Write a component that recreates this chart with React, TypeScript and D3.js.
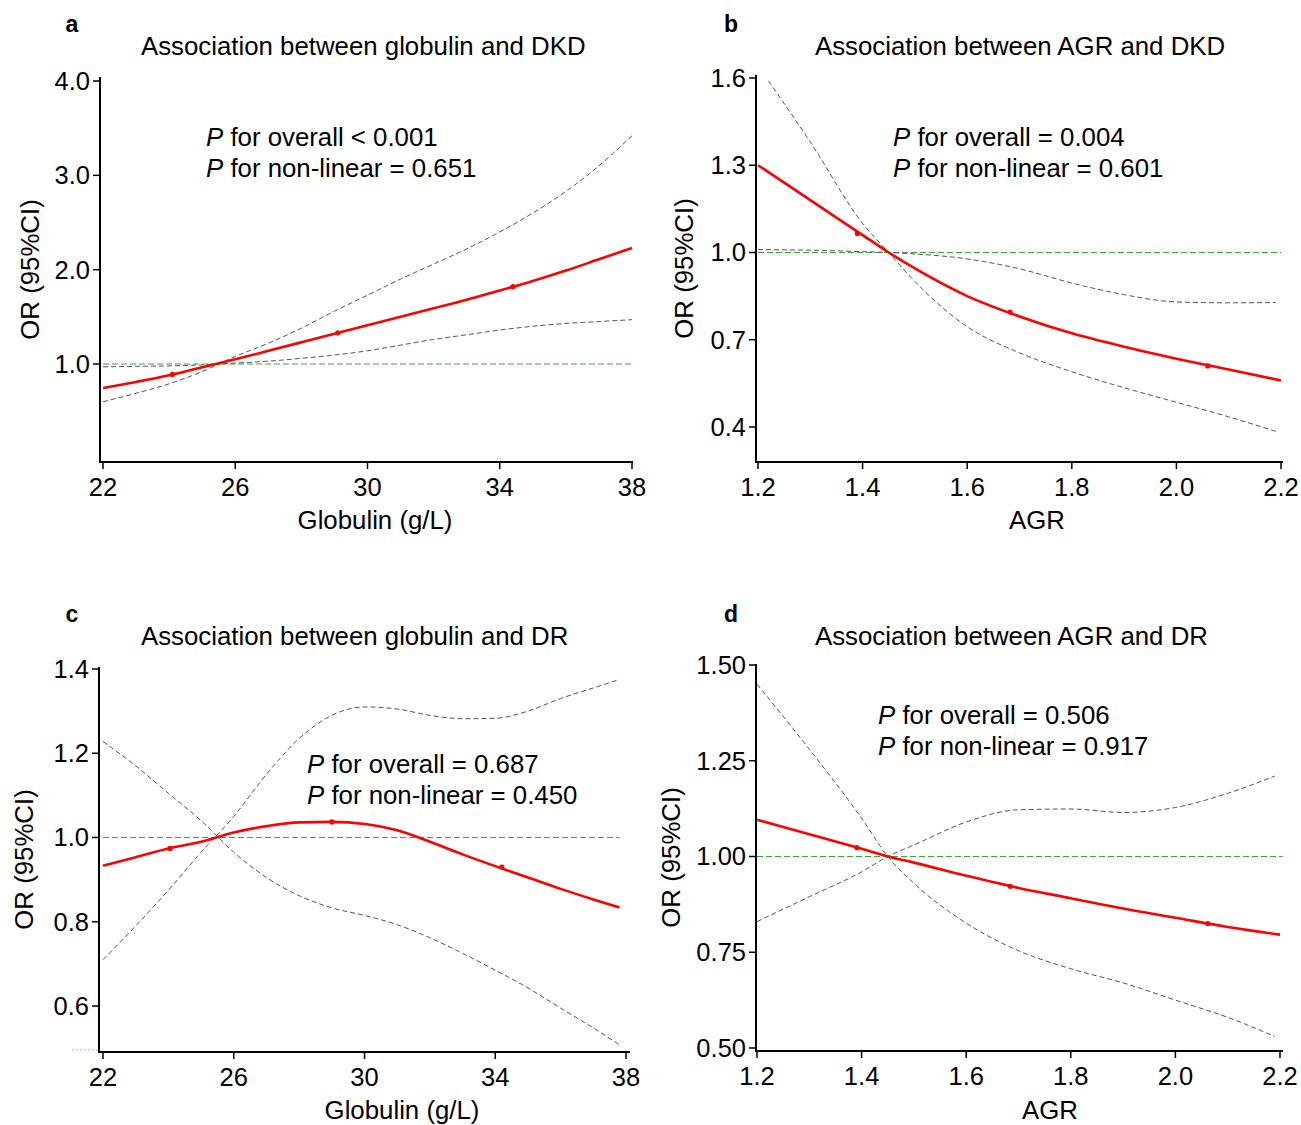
import React from 'react';
import * as d3 from 'd3';

// ---- data ----
// a: globulin vs DKD
const globA = [22, 23, 24, 25, 26, 27, 28, 29, 30, 31, 32, 33, 34, 35, 36, 37, 38];
const orA = [0.745, 0.81, 0.88, 0.965, 1.05, 1.14, 1.23, 1.32, 1.41, 1.5, 1.59, 1.68, 1.78, 1.88, 1.99, 2.11, 2.23];
const ciA1 = [0.6, 0.69, 0.79, 0.92, 1.08, 1.22, 1.38, 1.56, 1.73, 1.9, 2.06, 2.22, 2.4, 2.6, 2.83, 3.1, 3.42];
const ciA2 = [0.97, 0.975, 0.98, 0.99, 1.01, 1.03, 1.06, 1.095, 1.14, 1.2, 1.26, 1.31, 1.36, 1.4, 1.43, 1.45, 1.47];
const knotXA = [24.1, 29.1, 34.4];
const knotYA = [0.89, 1.33, 1.82];

// b: AGR vs DKD
const agrB = [1.2, 1.3, 1.4, 1.45, 1.5, 1.6, 1.7, 1.8, 1.9, 2.0, 2.1, 2.2];
const orB = [1.3, 1.18, 1.06, 1.0, 0.945, 0.85, 0.78, 0.722, 0.676, 0.635, 0.598, 0.56];
const agrBci = [1.22, 1.3, 1.4, 1.45, 1.5, 1.6, 1.7, 1.8, 1.9, 2.0, 2.1, 2.19];
const ciB1 = [1.59, 1.38, 1.1, 1.0, 0.9, 0.745, 0.655, 0.59, 0.535, 0.485, 0.435, 0.385];
const ciB2x = [1.2, 1.3, 1.4, 1.45, 1.5, 1.6, 1.7, 1.8, 1.9, 2.0, 2.1, 2.19];
const ciB2 = [1.01, 1.008, 1.003, 1.0, 0.995, 0.978, 0.944, 0.895, 0.855, 0.83, 0.827, 0.828];
const knotXB = [1.39, 1.682, 2.06];
const knotYB = [1.065, 0.795, 0.61];

// c: globulin vs DR
const globC = [22, 23, 24, 25, 26, 27, 28, 29, 30, 31, 32, 33, 34, 35, 36, 37, 37.8];
const orC = [0.933, 0.953, 0.974, 0.99, 1.012, 1.027, 1.036, 1.037, 1.032, 1.017, 0.99, 0.96, 0.932, 0.905, 0.878, 0.853, 0.834];
const ciC1 = [0.71, 0.79, 0.875, 0.965, 1.05, 1.15, 1.235, 1.29, 1.31, 1.305, 1.29, 1.282, 1.283, 1.3, 1.33, 1.355, 1.375];
const ciC2 = [1.228, 1.17, 1.105, 1.04, 0.965, 0.905, 0.862, 0.833, 0.815, 0.793, 0.762, 0.725, 0.685, 0.643, 0.595, 0.548, 0.508];
const knotXC = [24.05, 29.0, 34.2];
const knotYC = [0.974, 1.037, 0.93];

// d: AGR vs DR
const agrD = [1.2, 1.3, 1.4, 1.45, 1.5, 1.6, 1.7, 1.8, 1.9, 2.0, 2.1, 2.2];
const orD = [1.096, 1.058, 1.02, 1.0, 0.984, 0.95, 0.918, 0.891, 0.864, 0.84, 0.816, 0.796];
const agrDci = [1.2, 1.3, 1.4, 1.45, 1.5, 1.6, 1.7, 1.8, 1.9, 2.0, 2.1, 2.19];
const ciD1 = [1.45, 1.28, 1.1, 1.0, 0.93, 0.826, 0.754, 0.707, 0.67, 0.625, 0.58, 0.53];
const ciD2 = [0.83, 0.895, 0.96, 1.0, 1.03, 1.09, 1.122, 1.124, 1.115, 1.128, 1.165, 1.21];
const knotXD = [1.391, 1.684, 2.062];
const knotYD = [1.023, 0.922, 0.825];

const globTicks = [22, 26, 30, 34, 38];
const agrTicks = [1.2, 1.4, 1.6, 1.8, 2.0, 2.2];

const FONT = "'Liberation Sans', Arial, Helvetica, sans-serif";
const FS = 25.8;   // titles, labels, annotations
const TFS = 25.5;  // tick labels

const zip = (xs, ys) => xs.map((x, i) => [x, ys[i]]);

const panels = [
  {
    letter: 'a', title: 'Association between globulin and DKD', xLabel: 'Globulin (g/L)',
    pOverall: '< 0.001', pNonLin: '= 0.651',
    xDomain: [22, 38], xRange: [103, 632], yDomain: [1, 4], yRange: [364, 81],
    axisX: 100, axisY: 462, axisTop: 77, axisRight: 633,
    xTicks: globTicks, xFmt: d3.format('d'), yTicks: [1, 2, 3, 4], yFmt: d3.format('.1f'),
    ref: [22, 38],
    fit: zip(globA, orA), ci1: zip(globA, ciA1), ci2: zip(globA, ciA2), knots: zip(knotXA, knotYA),
    textX: 206, textY: 146, xLabX: 375, xLabY: 529, yLabX: 30,
  },
  {
    letter: 'b', title: 'Association between AGR and DKD', xLabel: 'AGR',
    pOverall: '= 0.004', pNonLin: '= 0.601',
    xDomain: [1.2, 2.2], xRange: [758, 1281], yDomain: [0.4, 1.6], yRange: [427, 78],
    axisX: 756, axisY: 462, axisTop: 75, axisRight: 1283,
    xTicks: agrTicks, xFmt: d3.format('.1f'), yTicks: [0.4, 0.7, 1.0, 1.3, 1.6], yFmt: d3.format('.1f'),
    ref: [1.2, 2.2],
    fit: zip(agrB, orB), ci1: zip(agrBci, ciB1), ci2: zip(ciB2x, ciB2), knots: zip(knotXB, knotYB),
    textX: 893, textY: 146, xLabX: 1037, xLabY: 529, yLabX: 684,
  },
  {
    letter: 'c', title: 'Association between globulin and DR', xLabel: 'Globulin (g/L)',
    pOverall: '= 0.687', pNonLin: '= 0.450',
    xDomain: [22, 38], xRange: [103, 626], yDomain: [0.6, 1.4], yRange: [1006, 669],
    axisX: 99, axisY: 1052, axisTop: 667, axisRight: 630,
    xTicks: globTicks, xFmt: d3.format('d'), yTicks: [0.6, 0.8, 1.0, 1.2, 1.4], yFmt: d3.format('.1f'),
    ref: [22, 37.8],
    fit: zip(globC, orC), ci1: zip(globC, ciC1), ci2: zip(globC, ciC2), knots: zip(knotXC, knotYC),
    textX: 307, textY: 773, xLabX: 402, xLabY: 1119, yLabX: 24,
  },
  {
    letter: 'd', title: 'Association between AGR and DR', xLabel: 'AGR',
    pOverall: '= 0.506', pNonLin: '= 0.917',
    xDomain: [1.2, 2.2], xRange: [757, 1280], yDomain: [0.5, 1.5], yRange: [1048, 665],
    axisX: 756, axisY: 1051, axisTop: 664, axisRight: 1283,
    xTicks: agrTicks, xFmt: d3.format('.1f'), yTicks: [0.5, 0.75, 1.0, 1.25, 1.5], yFmt: d3.format('.2f'),
    ref: [1.2, 2.205],
    fit: zip(agrD, orD), ci1: zip(agrDci, ciD1), ci2: zip(agrDci, ciD2), knots: zip(knotXD, knotYD),
    textX: 878, textY: 724, xLabX: 1050, xLabY: 1119, yLabX: 671,
  },
];

const Panel = ({ p }) => {
  const x = d3.scaleLinear().domain(p.xDomain).range(p.xRange);
  const y = d3.scaleLinear().domain(p.yDomain).range(p.yRange);
  const line = d3.line().x((d) => x(d[0])).y((d) => y(d[1])).curve(d3.curveMonotoneX);
  const letterX = p.axisX < 300 ? 72 : 731;
  const topY = p.axisY < 600 ? 0 : 590;
  const titleX = p.axisX < 300 ? 141 : 815;
  const yLabY = (p.axisTop + p.axisY) / 2;

  return (
    <g fontFamily={FONT} fill="#000">
      <text x={letterX} y={topY + 32} fontSize={23} fontWeight="bold" textAnchor="middle">{p.letter}</text>
      <text x={titleX} y={topY + 55} fontSize={FS}>{p.title}</text>

      {/* reference line OR = 1 */}
      <line x1={x(p.ref[0])} x2={x(p.ref[1])} y1={y(1)} y2={y(1)}
        stroke="#3aa83a" strokeWidth={1} strokeDasharray="6,3" />

      {/* confidence bands */}
      <path d={line(p.ci1)} fill="none" stroke="#555" strokeWidth={1} strokeDasharray="5,3" />
      <path d={line(p.ci2)} fill="none" stroke="#555" strokeWidth={1} strokeDasharray="5,3" />

      {/* fitted OR */}
      <path d={line(p.fit)} fill="none" stroke="#f00" strokeWidth={2.6} />
      {p.knots.map((k, i) => (
        <circle key={i} cx={x(k[0])} cy={y(k[1])} r={2.6} fill="#f00" />
      ))}

      {/* axes */}
      <line x1={p.axisX} x2={p.axisX} y1={p.axisTop} y2={p.axisY} stroke="#000" strokeWidth={2} />
      <line x1={p.axisX - 1} x2={p.axisRight} y1={p.axisY} y2={p.axisY} stroke="#000" strokeWidth={2.2} />
      {p.yTicks.map((t) => (
        <g key={'y' + t}>
          <line x1={p.axisX - 7} x2={p.axisX} y1={y(t)} y2={y(t)} stroke="#000" strokeWidth={1.5} />
          <text x={p.axisX - 10} y={y(t)} dy="0.35em" fontSize={TFS} textAnchor="end">{p.yFmt(t)}</text>
        </g>
      ))}
      {p.xTicks.map((t) => (
        <g key={'x' + t}>
          <line x1={x(t)} x2={x(t)} y1={p.axisY} y2={p.axisY + 7} stroke="#000" strokeWidth={1.5} />
          <text x={x(t)} y={p.axisY + 34} fontSize={TFS} textAnchor="middle">{p.xFmt(t)}</text>
        </g>
      ))}

      <text x={p.xLabX} y={p.xLabY} fontSize={FS} textAnchor="middle">{p.xLabel}</text>
      <text transform={`translate(${p.yLabX},${yLabY}) rotate(-90)`} dy="0.35em" fontSize={FS} textAnchor="middle">OR (95%CI)</text>

      <text x={p.textX} y={p.textY} fontSize={FS}>
        <tspan fontStyle="italic">P</tspan>{' for overall ' + p.pOverall}
      </text>
      <text x={p.textX} y={p.textY + 31} fontSize={FS}>
        <tspan fontStyle="italic">P</tspan>{' for non-linear ' + p.pNonLin}
      </text>
    </g>
  );
};

export default function App() {
  return (
    <svg width={1301} height={1125} style={{ position: 'absolute', left: 0, top: 0, background: '#fff' }}>
      <rect width={1301} height={1125} fill="#fff" />
      {panels.map((p) => <Panel key={p.letter} p={p} />)}
      <line x1={72} x2={97} y1={1050} y2={1050} stroke="#bbb" strokeWidth={1} strokeDasharray="2,2" />
    </svg>
  );
}
